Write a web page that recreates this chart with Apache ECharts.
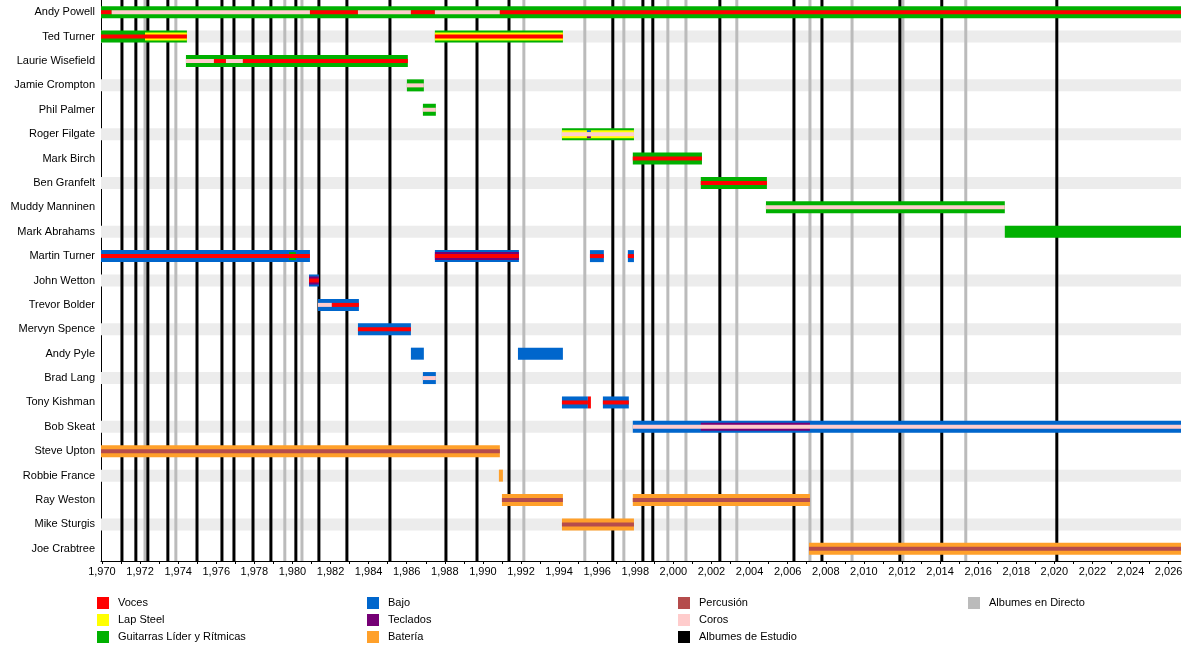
<!DOCTYPE html>
<html>
<head>
<meta charset="utf-8">
<script src="https://cdn.jsdelivr.net/npm/echarts@6/dist/echarts.min.js"></script>
<style>html,body{margin:0;padding:0;background:#fff}#chart{width:1200px;height:655px}</style>
</head>
<body>
<div id="chart"></div>
<script>
var members = ['Andy Powell', 'Ted Turner', 'Laurie Wisefield', 'Jamie Crompton', 'Phil Palmer',
  'Roger Filgate', 'Mark Birch', 'Ben Granfelt', 'Muddy Manninen', 'Mark Abrahams',
  'Martin Turner', 'John Wetton', 'Trevor Bolder', 'Mervyn Spence', 'Andy Pyle', 'Brad Lang',
  'Tony Kishman', 'Bob Skeat', 'Steve Upton', 'Robbie France', 'Ray Weston', 'Mike Sturgis', 'Joe Crabtree'];

var roleNames = {
  voc: 'Voces', lap: 'Lap Steel', gtr: 'Guitarras Líder y Rítmicas',
  bass: 'Bajo', keys: 'Teclados', drums: 'Batería',
  perc: 'Percusión', back: 'Coros', studio: 'Albumes de Estudio', live: 'Albumes en Directo'
};
var roleColors = {
  voc: '#ff0000', lap: '#ffff00', gtr: '#00b000', bass: '#0066cc', keys: '#750075',
  drums: '#ffa02a', perc: '#b54c4c', back: '#ffcccc', studio: '#000000', live: '#bbbbbb'
};
var legendColumns = [['voc', 'lap', 'gtr'], ['bass', 'keys', 'drums'], ['perc', 'back', 'studio'], ['live']];

// [member, start, end, role, layer]  layer: full | mid | core | upper | lower
var spans = [
  ['Andy Powell', 1969.95, 2026.65, 'gtr', 'full'],
  ['Andy Powell', 1969.95, 1970.51, 'voc', 'core'],
  ['Andy Powell', 1970.51, 1980.92, 'back', 'core'],
  ['Andy Powell', 1980.92, 1983.44, 'voc', 'core'],
  ['Andy Powell', 1983.44, 1986.22, 'back', 'core'],
  ['Andy Powell', 1986.22, 1987.48, 'voc', 'core'],
  ['Andy Powell', 1987.48, 1990.89, 'back', 'core'],
  ['Andy Powell', 1990.89, 2026.65, 'voc', 'core'],
  ['Ted Turner', 1969.95, 1974.46, 'gtr', 'full'],
  ['Ted Turner', 1972.26, 1974.46, 'lap', 'mid'],
  ['Ted Turner', 1969.95, 1974.46, 'voc', 'core'],
  ['Ted Turner', 1987.48, 1994.2, 'gtr', 'full'],
  ['Ted Turner', 1987.48, 1994.2, 'lap', 'mid'],
  ['Ted Turner', 1987.48, 1994.2, 'voc', 'core'],
  ['Laurie Wisefield', 1974.41, 1986.06, 'gtr', 'full'],
  ['Laurie Wisefield', 1974.41, 1975.88, 'back', 'core'],
  ['Laurie Wisefield', 1975.88, 1976.51, 'voc', 'core'],
  ['Laurie Wisefield', 1976.51, 1977.4, 'back', 'core'],
  ['Laurie Wisefield', 1977.4, 1986.06, 'voc', 'core'],
  ['Jamie Crompton', 1986.01, 1986.9, 'gtr', 'full'],
  ['Jamie Crompton', 1986.01, 1986.9, 'back', 'core'],
  ['Phil Palmer', 1986.85, 1987.53, 'gtr', 'full'],
  ['Phil Palmer', 1986.85, 1987.53, 'back', 'core'],
  ['Roger Filgate', 1994.15, 1997.93, 'gtr', 'full'],
  ['Roger Filgate', 1994.15, 1997.93, 'lap', 'mid'],
  ['Roger Filgate', 1995.46, 1995.67, 'bass', 'upper'],
  ['Roger Filgate', 1995.46, 1995.67, 'keys', 'lower'],
  ['Roger Filgate', 1994.15, 1997.93, 'back', 'core'],
  ['Mark Birch', 1997.87, 2001.5, 'gtr', 'full'],
  ['Mark Birch', 1997.87, 2001.5, 'voc', 'core'],
  ['Ben Granfelt', 2001.44, 2004.91, 'gtr', 'full'],
  ['Ben Granfelt', 2001.44, 2004.91, 'voc', 'core'],
  ['Muddy Manninen', 2004.86, 2017.4, 'gtr', 'full'],
  ['Muddy Manninen', 2004.86, 2017.4, 'back', 'core'],
  ['Mark Abrahams', 2017.4, 2026.65, 'gtr', 'full'],
  ['Martin Turner', 1969.95, 1980.92, 'bass', 'full'],
  ['Martin Turner', 1979.82, 1980.18, 'gtr', 'mid'],
  ['Martin Turner', 1969.95, 1980.92, 'voc', 'core'],
  ['Martin Turner', 1987.48, 1991.89, 'bass', 'full'],
  ['Martin Turner', 1987.48, 1991.89, 'keys', 'mid'],
  ['Martin Turner', 1987.48, 1991.89, 'voc', 'core'],
  ['Martin Turner', 1995.62, 1996.35, 'bass', 'full'],
  ['Martin Turner', 1995.62, 1996.35, 'voc', 'core'],
  ['Martin Turner', 1997.61, 1997.93, 'bass', 'full'],
  ['Martin Turner', 1997.61, 1997.93, 'voc', 'core'],
  ['John Wetton', 1980.87, 1981.39, 'bass', 'full'],
  ['John Wetton', 1980.87, 1981.39, 'keys', 'mid'],
  ['John Wetton', 1980.87, 1981.39, 'voc', 'core'],
  ['Trevor Bolder', 1981.34, 1983.49, 'bass', 'full'],
  ['Trevor Bolder', 1981.34, 1982.07, 'back', 'core'],
  ['Trevor Bolder', 1982.07, 1983.49, 'voc', 'core'],
  ['Mervyn Spence', 1983.44, 1986.22, 'bass', 'full'],
  ['Mervyn Spence', 1983.44, 1986.22, 'voc', 'core'],
  ['Andy Pyle', 1986.22, 1986.9, 'bass', 'full'],
  ['Andy Pyle', 1991.84, 1994.2, 'bass', 'full'],
  ['Brad Lang', 1986.85, 1987.53, 'bass', 'full'],
  ['Brad Lang', 1986.85, 1987.53, 'back', 'core'],
  ['Tony Kishman', 1994.15, 1995.51, 'bass', 'full'],
  ['Tony Kishman', 1994.15, 1995.51, 'voc', 'core'],
  ['Tony Kishman', 1995.51, 1995.67, 'voc', 'full'],
  ['Tony Kishman', 1996.3, 1997.66, 'bass', 'full'],
  ['Tony Kishman', 1996.3, 1997.66, 'voc', 'core'],
  ['Bob Skeat', 1997.87, 2026.65, 'bass', 'full'],
  ['Bob Skeat', 2001.44, 2007.17, 'keys', 'mid'],
  ['Bob Skeat', 1997.87, 2026.65, 'back', 'core'],
  ['Steve Upton', 1969.95, 1990.89, 'drums', 'full'],
  ['Steve Upton', 1969.95, 1990.89, 'perc', 'core'],
  ['Robbie France', 1990.84, 1991.05, 'drums', 'full'],
  ['Ray Weston', 1991.0, 1994.2, 'drums', 'full'],
  ['Ray Weston', 1991.0, 1994.2, 'perc', 'core'],
  ['Ray Weston', 1997.87, 2007.17, 'drums', 'full'],
  ['Ray Weston', 1997.87, 2007.17, 'perc', 'core'],
  ['Mike Sturgis', 1994.15, 1997.93, 'drums', 'full'],
  ['Mike Sturgis', 1994.15, 1997.93, 'perc', 'core'],
  ['Joe Crabtree', 2007.12, 2026.65, 'drums', 'full'],
  ['Joe Crabtree', 2007.12, 2026.65, 'perc', 'core']
];

var studioAlbums = [1971.05, 1971.78, 1972.41, 1973.46, 1974.99, 1976.3, 1976.93, 1977.93, 1978.87,
  1980.18, 1981.39, 1982.86, 1985.12, 1988.06, 1989.69, 1991.37, 1996.82, 1998.4, 1998.92,
  2002.44, 2006.33, 2007.8, 2011.89, 2014.09, 2020.13];
var liveAlbums = [1972.26, 1973.88, 1979.6, 1980.5, 1992.15, 1995.35, 1997.4, 1999.71, 2000.66,
  2003.33, 2007.17, 2009.38, 2012.05, 2015.35];

var xMin = 1969.95, xMax = 2026.65;
var yearTicks = [], yearLabels = [];
for (var y = 1970; y <= 2026; y++) { yearTicks.push(y); if (y % 2 === 0) yearLabels.push(y); }

var BAR_H = 12;
var layerBounds = { full: [-0.5, 0.5], mid: [-1 / 3, 1 / 3], core: [-1 / 6, 1 / 6], upper: [-1 / 3, -1 / 6], lower: [1 / 6, 1 / 3] };

var spanData = spans.map(function (s) {
  return { value: [members.indexOf(s[0]), s[1], s[2]], layer: s[4], color: roleColors[s[3]] };
});

function renderSpan(params, api) {
  var d = spanData[params.dataIndex];
  var p0 = api.coord([api.value(1), api.value(0)]);
  var p1 = api.coord([api.value(2), api.value(0)]);
  var b = layerBounds[d.layer];
  return {
    type: 'rect',
    shape: { x: p0[0], y: p0[1] + b[0] * BAR_H, width: p1[0] - p0[0], height: (b[1] - b[0]) * BAR_H },
    style: { fill: d.color }
  };
}

function renderStripe(params, api) {
  var cs = params.coordSys;
  var p = api.coord([xMin, api.value(0)]);
  return { type: 'rect', shape: { x: cs.x, y: p[1] - BAR_H / 2, width: cs.width, height: BAR_H }, style: { fill: '#ececec' } };
}

function lineRenderer(color) {
  return function (params, api) {
    var cs = params.coordSys;
    var p = api.coord([api.value(0), 0]);
    return { type: 'rect', shape: { x: p[0] - 1.5, y: cs.y, width: 3, height: cs.height }, style: { fill: color } };
  };
}

var stripeRows = members.map(function (m, i) { return [i]; }).filter(function (r) { return r[0] % 2 === 1; });

var series = [
  { type: 'custom', renderItem: renderStripe, data: stripeRows, silent: true, z: 1 },
  { type: 'custom', renderItem: lineRenderer(roleColors.live), data: liveAlbums.map(function (v) { return [v]; }), silent: true, z: 2 },
  { type: 'custom', renderItem: lineRenderer(roleColors.studio), data: studioAlbums.map(function (v) { return [v]; }), silent: true, z: 3 },
  { type: 'custom', renderItem: renderSpan, data: spanData, silent: true, z: 4 }
];
Object.keys(roleNames).forEach(function (k) {
  series.push({ type: 'custom', name: roleNames[k], itemStyle: { color: roleColors[k] }, data: [], renderItem: function () { return null; } });
});

var legendX = [97, 367, 678, 968];
var legends = legendColumns.map(function (col, i) {
  return {
    orient: 'vertical', left: legendX[i], top: 597, itemWidth: 12, itemHeight: 12, itemGap: 5,
    icon: 'rect', selectedMode: false, padding: 0,
    textStyle: { fontFamily: 'Liberation Sans', fontSize: 11, color: '#000', padding: [0, 0, 0, 4] },
    data: col.map(function (k) { return roleNames[k]; })
  };
});

var chart = echarts.init(document.getElementById('chart'), null, { renderer: 'canvas' });
chart.setOption({
  animation: false,
  backgroundColor: '#fff',
  textStyle: { fontFamily: 'Liberation Sans' },
  grid: { left: 101, right: 19, top: -1, bottom: 94, containLabel: false },
  legend: legends,
  xAxis: {
    type: 'value', min: xMin, max: xMax,
    axisLine: { show: true, lineStyle: { color: '#000', width: 1 } },
    axisTick: { show: true, length: 3, lineStyle: { color: '#000' }, customValues: yearTicks },
    axisLabel: { fontSize: 11, color: '#000', margin: 5, customValues: yearLabels },
    splitLine: { show: false }
  },
  yAxis: {
    type: 'category', data: members, inverse: true,
    axisLine: { show: true, lineStyle: { color: '#000' } },
    axisTick: { show: false },
    axisLabel: { fontSize: 11, color: '#000', margin: 6 },
    splitLine: { show: false }
  },
  series: series
});
</script>
</body>
</html>
